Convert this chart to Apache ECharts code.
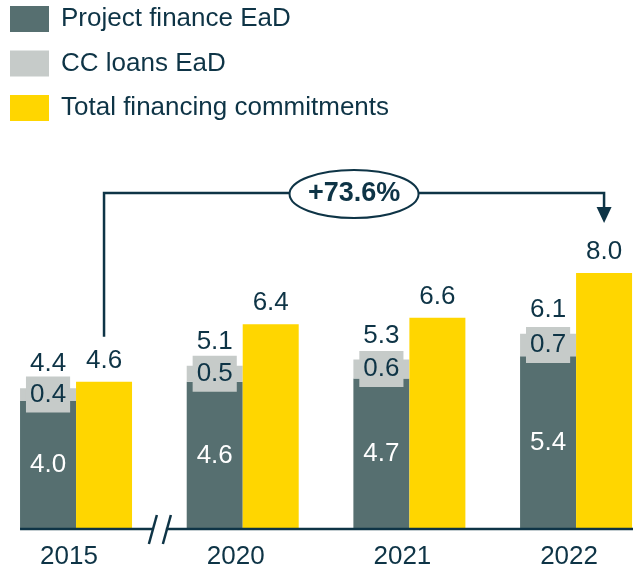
<!DOCTYPE html>
<html>
<head>
<meta charset="utf-8">
<script src="https://cdn.jsdelivr.net/npm/echarts@6/dist/echarts.min.js"></script>
<style>
  html, body { margin: 0; padding: 0; background: #ffffff; }
  #chart { width: 633px; height: 573px; }
</style>
</head>
<body>
<div id="chart"></div>
<script>
// Financing volumes, EUR bn
const years = ['2015', '2020', '2021', '2022'];
const projectFinance = [4.0, 4.6, 4.7, 5.4];
const ccLoans = [0.4, 0.5, 0.6, 0.7];
const totalCommitments = [4.6, 6.4, 6.6, 8.0];
const growthLabel = '+73.6%';

const DARK = '#566f70';
const LIGHT = '#c6cbc9';
const YELLOW = '#ffd600';
const INK = '#0e3446';
const FONT = '"Liberation Sans", Arial, Helvetica, sans-serif';
const BAR_W = 56;

const fmt = (v) => v.toFixed(1);

const chart = echarts.init(document.getElementById('chart'), null, { renderer: 'canvas' });

const option = {
  animation: false,
  backgroundColor: '#ffffff',
  textStyle: { fontFamily: FONT },
  legend: {
    orient: 'vertical',
    left: 10,
    top: 6,
    padding: 0,
    itemWidth: 39,
    itemHeight: 26,
    itemGap: 18.5,
    icon: 'rect',
    selectedMode: false,
    data: ['Project finance EaD', 'CC loans EaD', 'Total financing commitments'],
    textStyle: { fontSize: 26, color: INK, fontFamily: FONT, padding: [0, 0, 0, 7] }
  },
  // the category bands run slightly past both canvas edges so the groups sit where they should
  grid: {
    left: -7.3,
    right: -26.4,
    top: 209,
    bottom: 44,
    containLabel: false,
    outerBoundsMode: 'none'
  },
  xAxis: {
    type: 'category',
    data: years,
    axisTick: { show: false },
    axisLine: { show: false },
    splitLine: { show: false },
    axisLabel: {
      fontSize: 26,
      color: INK,
      fontFamily: FONT,
      margin: 15,
      padding: [0, 14, 0, 0]
    }
  },
  yAxis: {
    type: 'value',
    min: 0,
    max: 10,
    show: false,
    splitLine: { show: false }
  },
  series: [
    {
      name: 'Project finance EaD',
      type: 'bar',
      stack: 'ead',
      barWidth: BAR_W,
      barGap: '0%',
      itemStyle: { color: DARK },
      label: {
        show: true,
        position: 'inside',
        color: '#ffffff',
        fontSize: 26,
        fontFamily: FONT,
        formatter: (p) => fmt(p.value)
      },
      data: projectFinance
    },
    {
      name: 'CC loans EaD',
      type: 'bar',
      stack: 'ead',
      barWidth: BAR_W,
      barGap: '0%',
      itemStyle: { color: LIGHT },
      label: {
        show: true,
        position: 'inside',
        color: INK,
        fontSize: 26,
        fontFamily: FONT,
        lineHeight: 26,
        backgroundColor: LIGHT,
        padding: [5, 4, 5, 4],
        formatter: (p) => fmt(p.value)
      },
      data: ccLoans
    },
    {
      // zero-height cap on the EaD stack carrying the stack total
      name: 'EaD total',
      type: 'bar',
      stack: 'ead',
      barWidth: BAR_W,
      barGap: '0%',
      silent: true,
      itemStyle: { color: 'rgba(0,0,0,0)' },
      label: {
        show: true,
        position: 'top',
        distance: 11,
        color: INK,
        fontSize: 26,
        fontFamily: FONT,
        formatter: (p) => fmt(projectFinance[p.dataIndex] + ccLoans[p.dataIndex])
      },
      data: years.map(() => 0)
    },
    {
      name: 'Total financing commitments',
      type: 'bar',
      barWidth: BAR_W,
      barGap: '0%',
      itemStyle: { color: YELLOW },
      label: {
        show: true,
        position: 'top',
        distance: 8,
        color: INK,
        fontSize: 26,
        fontFamily: FONT,
        formatter: (p) => fmt(p.value)
      },
      data: totalCommitments
    }
  ]
};

chart.setOption(option);

// Baseline with the axis break, and the growth bracket between the first and last commitments bars
function drawOverlay() {
  const xPx = (i) => chart.convertToPixel({ xAxisIndex: 0 }, years[i]);
  const yPx = (v) => chart.convertToPixel({ yAxisIndex: 0 }, v);
  const last = years.length - 1;

  const x0 = xPx(0) + BAR_W / 2;
  const x1 = xPx(last) + BAR_W / 2;
  const yBracket = yPx(10.5);
  const yStart = yPx(totalCommitments[0]) - 45;
  const yTip = yPx(totalCommitments[last]) - 50;
  const midX = (x0 + x1) / 2;

  const base = yPx(0);
  const lineLeft = xPx(0) - BAR_W;
  const lineRight = chart.getWidth();
  const brk = (xPx(0) + xPx(1)) / 2;

  chart.setOption({
    graphic: [
      {
        type: 'line',
        z: 10,
        shape: { x1: lineLeft, y1: base, x2: brk - 6.5, y2: base },
        style: { stroke: INK, lineWidth: 2.5 }
      },
      {
        type: 'line',
        z: 10,
        shape: { x1: brk + 6.5, y1: base, x2: lineRight, y2: base },
        style: { stroke: INK, lineWidth: 2.5 }
      },
      {
        type: 'line',
        z: 11,
        shape: { x1: brk - 2.5, y1: base - 14, x2: brk - 10.5, y2: base + 15 },
        style: { stroke: INK, lineWidth: 2.5 }
      },
      {
        type: 'line',
        z: 11,
        shape: { x1: brk + 11.5, y1: base - 14, x2: brk + 3.5, y2: base + 15 },
        style: { stroke: INK, lineWidth: 2.5 }
      },
      {
        type: 'polyline',
        z: 10,
        shape: { points: [[x0, yStart], [x0, yBracket], [x1, yBracket], [x1, yTip - 14]] },
        style: { stroke: INK, lineWidth: 2.5, fill: null }
      },
      {
        type: 'polygon',
        z: 10,
        shape: { points: [[x1 - 7.5, yTip - 16], [x1 + 7.5, yTip - 16], [x1, yTip]] },
        style: { fill: INK }
      },
      {
        type: 'ellipse',
        z: 11,
        shape: { cx: midX, cy: yBracket + 1, rx: 64.5, ry: 24 },
        style: { fill: '#ffffff', stroke: INK, lineWidth: 2 }
      },
      {
        type: 'text',
        z: 12,
        x: midX,
        y: yBracket + 1,
        style: {
          text: growthLabel,
          fill: INK,
          fontSize: 27,
          fontWeight: 'bold',
          fontFamily: FONT,
          align: 'center',
          verticalAlign: 'middle'
        }
      }
    ]
  });
}
drawOverlay();
</script>
</body>
</html>
